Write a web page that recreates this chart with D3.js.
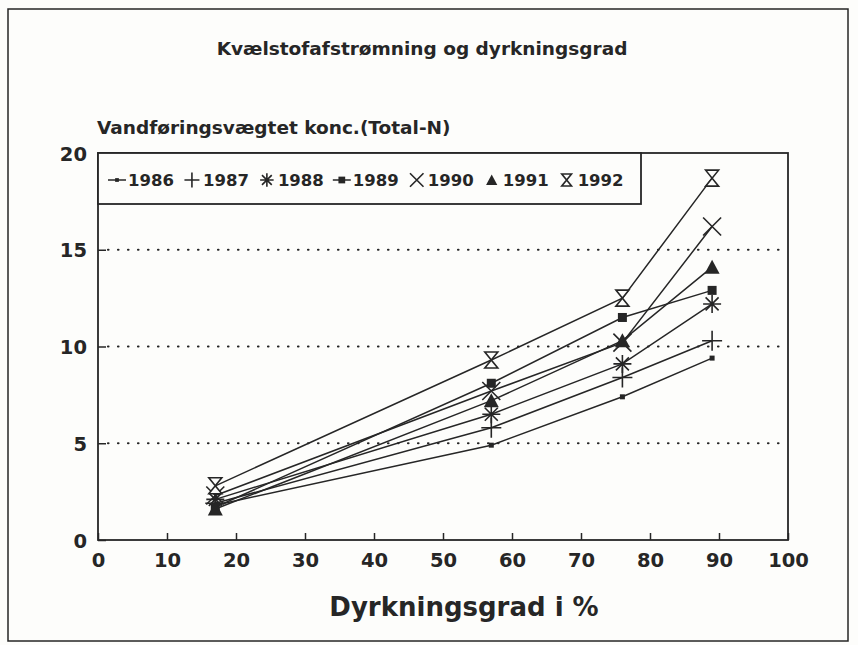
<!DOCTYPE html>
<html>
<head>
<meta charset="utf-8">
<script src="https://cdn.jsdelivr.net/npm/d3@7"></script>
<style>
  html, body { margin: 0; padding: 0; background: #fdfdfb; }
  svg { display: block; }
  text { font-family: "DejaVu Sans", sans-serif; font-weight: bold; fill: #262626; }
</style>
</head>
<body>
<div id="app"></div>
<script>
const WIDTH = 858;
const HEIGHT = 645;

// data
const years = ['1986', '1987', '1988', '1989', '1990', '1991', '1992'];
const dyrkning = [17, 57, 76, 89];
const n1986 = [1.8, 4.9, 7.4, 9.4];
const n1987 = [1.9, 5.8, 8.4, 10.3];
const n1988 = [2.1, 6.5, 9.1, 12.2];
const n1989 = [1.7, 8.1, 11.5, 12.9];
const n1990 = [2.3, 7.7, 10.2, 16.2];
const n1991 = [1.6, 7.2, 10.3, 14.1];
const n1992 = [2.8, 9.3, 12.5, 18.7];
const markers = ['dot', 'plus', 'star', 'square', 'cross', 'triangle', 'hourglass'];
const xTicks = [0, 10, 20, 30, 40, 50, 60, 70, 80, 90, 100];
const yTicks = [0, 5, 10, 15, 20];
const gridValues = [5, 10, 15];

const series = [n1986, n1987, n1988, n1989, n1990, n1991, n1992].map((vals, i) => ({
  year: years[i],
  marker: markers[i],
  points: vals.map((v, j) => ({ x: dyrkning[j], y: v }))
}));

const ink = '#262626';
const paper = '#fdfdfb';

const svg = d3.select('#app')
  .append('svg')
  .attr('width', WIDTH)
  .attr('height', HEIGHT);

// page frame of the scan
svg.append('rect')
  .attr('x', 8).attr('y', 9)
  .attr('width', 840).attr('height', 632)
  .attr('fill', 'none')
  .attr('stroke', ink)
  .attr('stroke-width', 1.5);

const x = d3.scaleLinear().domain([0, 100]).range([98, 788]);
const y = d3.scaleLinear().domain([0, 20]).range([540, 153]);

// marker shapes, drawn around (0,0); k scales them down for the legend
function drawMarker(g, type, k) {
  k = k || 1;
  const sw = 1.6 / k;
  g = g.append('g').attr('transform', `scale(${k})`);
  switch (type) {
    case 'dot':
      g.append('rect').attr('x', -2.5).attr('y', -2.5).attr('width', 5).attr('height', 5).attr('fill', ink);
      break;
    case 'plus':
      g.append('path').attr('d', 'M-10,0H10M0,-10V10').attr('stroke', ink).attr('stroke-width', sw);
      break;
    case 'star':
      g.append('path').attr('d', 'M0,-9V9M-9,0H9M-6.5,-6.5L6.5,6.5M-6.5,6.5L6.5,-6.5').attr('stroke', ink).attr('stroke-width', sw);
      break;
    case 'square':
      g.append('rect').attr('x', -4.5).attr('y', -4.5).attr('width', 9).attr('height', 9).attr('fill', ink);
      break;
    case 'cross':
      g.append('path').attr('d', 'M-9,-9L9,9M-9,9L9,-9').attr('stroke', ink).attr('stroke-width', sw);
      break;
    case 'triangle':
      g.append('path').attr('d', 'M0,-7.5L7.5,6.5H-7.5Z').attr('fill', ink);
      break;
    case 'hourglass':
      g.append('path').attr('d', 'M-6.5,-8H6.5L-6.5,8H6.5Z').attr('fill', paper).attr('stroke', ink).attr('stroke-width', sw);
      break;
  }
}

// title and axis titles
svg.append('text')
  .attr('x', 422).attr('y', 55)
  .attr('text-anchor', 'middle')
  .attr('font-size', '18.5px')
  .text('Kvælstofafstrømning og dyrkningsgrad');

svg.append('text')
  .attr('x', 97).attr('y', 134)
  .attr('font-size', '18.5px')
  .text('Vandføringsvægtet konc.(Total-N)');

svg.append('text')
  .attr('x', 464).attr('y', 616)
  .attr('text-anchor', 'middle')
  .attr('font-size', '26px')
  .text('Dyrkningsgrad i %');

// dotted grid lines
svg.append('g')
  .selectAll('line')
  .data(gridValues)
  .enter()
  .append('line')
  .attr('x1', x(0) + 10)
  .attr('x2', x(100))
  .attr('y1', d => y(d))
  .attr('y2', d => y(d))
  .attr('stroke', ink)
  .attr('stroke-width', 2.2)
  .attr('stroke-linecap', 'round')
  .attr('stroke-dasharray', '0.5,9.5');

// axes
const xAxis = svg.append('g')
  .attr('transform', `translate(0,${y(0)})`)
  .call(d3.axisBottom(x).tickValues(xTicks).tickSize(-7).tickPadding(11).tickFormat(d3.format('d')));

const yAxis = svg.append('g')
  .attr('transform', `translate(${x(0)},0)`)
  .call(d3.axisLeft(y).tickValues(yTicks).tickSize(-8).tickPadding(11).tickFormat(d3.format('d')));

[xAxis, yAxis].forEach(a => {
  a.select('.domain').remove();
  a.selectAll('line').attr('stroke', ink).attr('stroke-width', 1.5);
  a.selectAll('text').attr('font-size', '19.5px').attr('font-family', null).style('fill', ink);
});
xAxis.selectAll('text').attr('dy', '0.8em');
yAxis.selectAll('text').attr('dy', '0.36em');

// plot frame
svg.append('rect')
  .attr('x', x(0)).attr('y', y(20))
  .attr('width', x(100) - x(0)).attr('height', y(0) - y(20))
  .attr('fill', 'none')
  .attr('stroke', ink)
  .attr('stroke-width', 1.8);

// series lines
const line = d3.line().x(d => x(d.x)).y(d => y(d.y));

svg.append('g')
  .selectAll('path')
  .data(series)
  .enter()
  .append('path')
  .attr('d', d => line(d.points))
  .attr('fill', 'none')
  .attr('stroke', ink)
  .attr('stroke-width', 1.5);

// markers
series.forEach(s => {
  svg.append('g')
    .selectAll('g')
    .data(s.points)
    .enter()
    .append('g')
    .attr('transform', d => `translate(${x(d.x)},${y(d.y)})`)
    .each(function () { drawMarker(d3.select(this), s.marker); });
});

// legend box
const legend = svg.append('g');
legend.append('rect')
  .attr('x', x(0)).attr('y', y(20))
  .attr('width', 543).attr('height', 51)
  .attr('fill', paper)
  .attr('stroke', ink)
  .attr('stroke-width', 1.8);

let lx = 108;
const ly = y(20) + 27;
series.forEach(s => {
  const item = legend.append('g');
  if (s.marker === 'dot' || s.marker === 'square') {
    item.append('line')
      .attr('x1', lx).attr('x2', lx + 18)
      .attr('y1', ly).attr('y2', ly)
      .attr('stroke', ink).attr('stroke-width', 1.5);
  }
  const m = item.append('g').attr('transform', `translate(${lx + 9},${ly})`);
  drawMarker(m, s.marker, 0.75);
  const t = item.append('text')
    .attr('x', lx + 20)
    .attr('y', ly)
    .attr('dy', '0.36em')
    .attr('font-size', '16.5px')
    .text(s.year);
  lx = lx + 20 + t.node().getComputedTextLength() + 9;
});
</script>
</body>
</html>
